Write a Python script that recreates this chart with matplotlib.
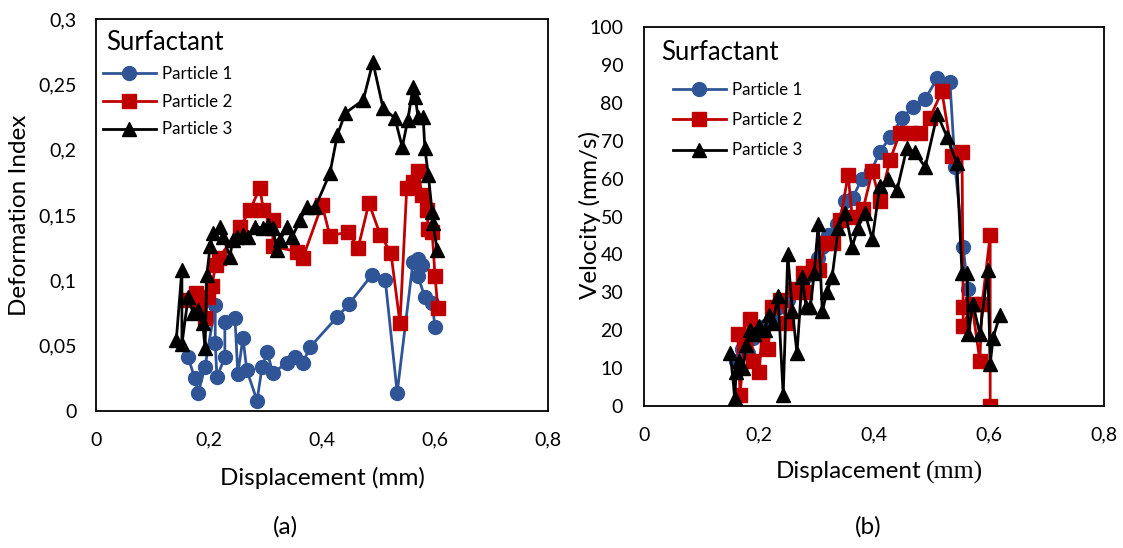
import numpy as np
import matplotlib
matplotlib.use('agg')
import matplotlib.pyplot as plt
from matplotlib.ticker import FuncFormatter

plt.rcParams['font.family'] = 'Lato'

# ---- (a) deformation index vs displacement ----
a_x1 = [0.163, 0.175, 0.181, 0.193, 0.211, 0.211, 0.214, 0.228, 0.228, 0.246, 0.251, 0.260,
        0.267, 0.285, 0.294, 0.303, 0.313, 0.338, 0.352, 0.366, 0.379, 0.427, 0.448, 0.488,
        0.512, 0.533, 0.561, 0.570, 0.577, 0.570, 0.582, 0.595, 0.600]
a_y1 = [0.041, 0.025, 0.014, 0.034, 0.081, 0.052, 0.026, 0.041, 0.068, 0.071, 0.028, 0.056,
        0.031, 0.008, 0.034, 0.045, 0.029, 0.037, 0.041, 0.037, 0.049, 0.072, 0.082, 0.104,
        0.100, 0.014, 0.114, 0.116, 0.112, 0.103, 0.087, 0.083, 0.064]

a_x2 = [0.161, 0.177, 0.182, 0.193, 0.198, 0.205, 0.212, 0.218, 0.255, 0.273, 0.290, 0.296,
        0.313, 0.313, 0.356, 0.366, 0.400, 0.414, 0.446, 0.464, 0.483, 0.503, 0.522, 0.538,
        0.550, 0.561, 0.570, 0.577, 0.586, 0.588, 0.595, 0.600, 0.605]
a_y2 = [0.085, 0.090, 0.081, 0.071, 0.087, 0.096, 0.112, 0.117, 0.141, 0.154, 0.171, 0.154,
        0.146, 0.126, 0.122, 0.117, 0.158, 0.134, 0.137, 0.125, 0.159, 0.135, 0.121, 0.067,
        0.171, 0.175, 0.184, 0.165, 0.154, 0.139, 0.137, 0.103, 0.079]

a_x3 = [0.142, 0.152, 0.152, 0.163, 0.172, 0.181, 0.189, 0.193, 0.196, 0.202, 0.207, 0.219,
        0.225, 0.237, 0.242, 0.250, 0.260, 0.269, 0.281, 0.296, 0.304, 0.313, 0.320, 0.326,
        0.338, 0.347, 0.361, 0.373, 0.388, 0.414, 0.427, 0.441, 0.473, 0.490, 0.508, 0.529,
        0.542, 0.552, 0.561, 0.565, 0.570, 0.579, 0.582, 0.588, 0.595, 0.596, 0.604]
a_y3 = [0.054, 0.108, 0.051, 0.087, 0.075, 0.077, 0.067, 0.048, 0.104, 0.126, 0.136, 0.141,
        0.133, 0.118, 0.131, 0.133, 0.135, 0.133, 0.141, 0.140, 0.142, 0.140, 0.123, 0.131,
        0.141, 0.133, 0.146, 0.156, 0.156, 0.182, 0.211, 0.228, 0.238, 0.267, 0.232, 0.224,
        0.202, 0.223, 0.248, 0.240, 0.225, 0.225, 0.201, 0.181, 0.152, 0.144, 0.123]

# ---- (b) velocity vs displacement ----
b_x1 = [0.160, 0.170, 0.180, 0.190, 0.200, 0.210, 0.220, 0.235, 0.250, 0.265, 0.280, 0.294,
        0.303, 0.310, 0.320, 0.335, 0.350, 0.363, 0.379, 0.395, 0.410, 0.428, 0.449, 0.468,
        0.489, 0.510, 0.532, 0.541, 0.555, 0.563]
b_y1 = [12, 15, 14, 18, 20, 21, 23, 26, 28, 31, 34, 37, 39, 42, 45, 48, 54, 55, 60, 62,
        67, 71, 76, 79, 81, 86.5, 85.5, 63, 42, 31]

b_x2 = [0.163, 0.167, 0.175, 0.184, 0.190, 0.200, 0.205, 0.215, 0.223, 0.237, 0.249, 0.260,
        0.266, 0.277, 0.280, 0.294, 0.305, 0.315, 0.329, 0.341, 0.355, 0.362, 0.381, 0.397,
        0.410, 0.428, 0.445, 0.463, 0.480, 0.497, 0.518, 0.536, 0.553, 0.555, 0.555, 0.570,
        0.584, 0.588, 0.602, 0.602]
b_y2 = [19, 3, 17, 23, 12, 9, 19, 15, 26, 28, 22, 31, 30, 35, 30, 37, 36, 43, 43, 49,
        61, 50, 52, 62, 54, 65, 72, 72, 72, 76, 83, 66, 67, 26, 21, 27, 12, 27, 45, 0]

b_x3 = [0.150, 0.158, 0.160, 0.166, 0.172, 0.178, 0.185, 0.192, 0.200, 0.210, 0.217, 0.224,
        0.233, 0.242, 0.250, 0.258, 0.266, 0.275, 0.282, 0.289, 0.296, 0.303, 0.310, 0.318,
        0.327, 0.338, 0.350, 0.362, 0.372, 0.384, 0.397, 0.410, 0.424, 0.440, 0.457, 0.471,
        0.489, 0.510, 0.527, 0.544, 0.553, 0.562, 0.564, 0.572, 0.584, 0.598, 0.602, 0.607,
        0.619]
b_y3 = [14, 2, 9, 12, 10, 16, 20, 19, 21, 20, 24, 22, 29, 3, 40, 25, 14, 34, 26, 26,
        35, 48, 25, 30, 34, 47, 51, 42, 47, 51, 44, 58, 60, 57, 68, 67, 63, 77, 71, 64,
        35, 35, 19, 27, 19, 36, 11, 18, 24]

labels = ['Particle 1', 'Particle 2', 'Particle 3']
colors = ['#2F5597', '#C00000', '#000000']
markers = ['o', 's', '^']


def comma(v, pos):
    return '{:g}'.format(round(v, 3)).replace('.', ',')


fig = plt.figure(figsize=(11.23, 5.48), dpi=100)
ax1 = fig.add_axes([0.0855, 0.25, 0.4025, 0.7153])
ax2 = fig.add_axes([0.5735, 0.2591, 0.4096, 0.6916])

series_a = [(a_x1, a_y1), (a_x2, a_y2), (a_x3, a_y3)]
series_b = [(b_x1, b_y1), (b_x2, b_y2), (b_x3, b_y3)]

for ax, series in [(ax1, series_a), (ax2, series_b)]:
    for (x, y), lab, c, m in zip(series, labels, colors, markers):
        ax.plot(x, y, color=c, marker=m, markersize=10, linewidth=2, label=lab)
    ax.set_xlim(0, 0.8)
    ax.set_xticks([0, 0.2, 0.4, 0.6, 0.8])
    ax.xaxis.set_major_formatter(FuncFormatter(comma))
    ax.yaxis.set_major_formatter(FuncFormatter(comma))
    ax.tick_params(length=0, labelsize=14)
    ax.tick_params(axis='x', pad=15)
    for s in ax.spines.values():
        s.set_linewidth(1.3)

ax1.set_ylim(0, 0.3)
ax1.set_yticks(np.arange(0, 0.31, 0.05))
ax1.tick_params(axis='y', pad=14)
ax2.set_ylim(0, 100)
ax2.set_yticks(np.arange(0, 101, 10))
ax2.tick_params(axis='y', pad=15)

ax1.text(0.022, 0.941, 'Surfactant', transform=ax1.transAxes, fontsize=18.5, va='center')
ax2.text(0.037, 0.934, 'Surfactant', transform=ax2.transAxes, fontsize=18.5, va='center')

leg_kw = dict(frameon=False, fontsize=12.2, handlelength=3.1, handletextpad=0.4,
              numpoints=1, borderpad=0, borderaxespad=0, loc='upper left')
ax1.legend(bbox_to_anchor=(0.0155, 0.88), labelspacing=0.69, **leg_kw)
ax2.legend(bbox_to_anchor=(0.063, 0.854), labelspacing=0.83, **leg_kw)

fig.text(20 / 1123, 1 - 215 / 548, 'Deformation Index', rotation=90, fontsize=17.5,
         ha='center', va='center')
fig.text(590 / 1123, 1 - 215 / 548, 'Velocity (mm/s)', rotation=90, fontsize=17.5,
         ha='center', va='center')
fig.text(322 / 1123, 1 - 478 / 548, 'Displacement (mm)', fontsize=17.5, ha='center', va='center')
fig.text(921 / 1123, 1 - 472 / 548, 'Displacement', fontsize=17.5, ha='right', va='center')
fig.text(926 / 1123, 1 - 472 / 548, '(mm)', fontsize=18.5, ha='left', va='center',
         family='Liberation Serif')
fig.text(285 / 1123, 1 - 527 / 548, '(a)', fontsize=17.5, ha='center', va='center')
fig.text(868 / 1123, 1 - 527 / 548, '(b)', fontsize=17.5, ha='center', va='center')

plt.savefig('out.png', dpi=100)
